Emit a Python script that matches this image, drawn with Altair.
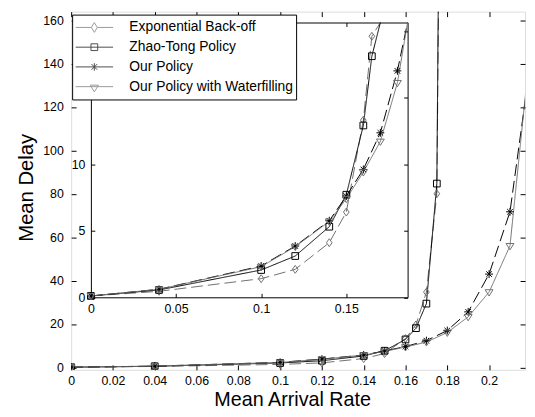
import altair as alt
import pandas as pd

SERIES = ["Exponential Back-off", "Zhao-Tong Policy", "Our Policy", "Our Policy with Waterfilling"]

rate_a = [0, 0.04, 0.1, 0.12, 0.14, 0.15, 0.16, 0.165, 0.17, 0.175, 0.18]
delay_backoff = [0.1, 0.45, 1.4, 2.1, 4.1, 6.4, 13.3, 19.6, 34.7, 80, 600]
delay_zhao = [0.1, 0.55, 2.05, 3.1, 5.3, 7.7, 12.9, 18.1, 29.4, 84.7, 700]

rate_b = [0, 0.04, 0.1, 0.12, 0.14, 0.15, 0.16, 0.17, 0.18, 0.19, 0.2, 0.21, 0.22]
delay_ours = [0.1, 0.6, 2.35, 3.85, 5.75, 7.6, 9.6, 12.35, 17.0, 25.6, 43, 71.7, 142]
delay_water = [0.1, 0.6, 2.3, 3.8, 5.7, 7.4, 9.4, 11.7, 16.1, 23.3, 34.7, 56, 150]

main_x_ticks = [0, 0.02, 0.04, 0.06, 0.08, 0.1, 0.12, 0.14, 0.16, 0.18, 0.2]
main_y_ticks = [0, 20, 40, 60, 80, 100, 120, 140, 160]
inset_x_ticks = [0, 0.05, 0.1, 0.15]
inset_y_ticks = [0, 5, 10, 15, 20]
inset_y_labels = [0, 5, 10]

MAIN_X = [0, 0.2172]
MAIN_Y = [-1.1, 163.9]
INSET_X = [0, 0.186]
INSET_Y = [0, 20.63]

colors = ["#707070", "#000000", "#000000", "#707070"]
dashes = [[12, 5], [1, 0], [12, 5], [1, 0]]
marker_paths = [
    "M0,-1L0.72,0L0,1L-0.72,0Z",
    "M-0.85,-0.85H0.85V0.85H-0.85Z",
    "M0,-1V1M-1,0H1M-0.7,-0.7L0.7,0.7M-0.7,0.7L0.7,-0.7",
    "M-1,-0.6L1,-0.6L0,1Z",
]
legend_paths = [
    "M-1,0H-0.16M0.16,0H1M0,-0.26L0.16,0L0,0.26L-0.16,0Z",
    "M-1,0H1M-0.18,-0.18H0.18V0.18H-0.18Z",
    "M-1,0H1M0,-0.2V0.2M-0.15,-0.15L0.15,0.15M-0.15,0.15L0.15,-0.15",
    "M-1,0H1M-0.22,-0.08L0.22,-0.08L0,0.28Z",
]

series_data = [
    (SERIES[0], rate_a, delay_backoff),
    (SERIES[1], rate_a, delay_zhao),
    (SERIES[2], rate_b, delay_ours),
    (SERIES[3], rate_b, delay_water),
]

rows = []
inset_line_rows = []
inset_point_rows = []
for name, xs, ys in series_data:
    for x, y in zip(xs, ys):
        rows.append({"x": x, "y": y, "series": name})
    for x, y in zip(xs, ys):
        inset_line_rows.append({"x": x, "y": y, "series": name})
        if x > INSET_X[1] or y > INSET_Y[1]:
            break
    for x, y in zip(xs, ys):
        if x <= INSET_X[1] and y <= INSET_Y[1]:
            inset_point_rows.append({"x": x, "y": y, "series": name})

df = pd.DataFrame(rows)
df_il = pd.DataFrame(inset_line_rows)
df_ip = pd.DataFrame(inset_point_rows)

W, H = 460, 363
FONT = "Liberation Sans"


def ax(orient, values, offset=0, labels=False, ticks=True, domain=False,
       tick_size=5, label_padding=4, fmt=".2~f", **kw):
    args = dict(orient=orient, values=values, offset=offset, labels=labels,
                ticks=ticks, domain=domain, grid=False, labelFlush=False,
                labelOverlap=False, format=fmt, labelPadding=label_padding,
                labelFontSize=12.5, labelFont=FONT, labelColor="black",
                tickColor="black", domainColor="black", tickWidth=1,
                domainWidth=1)
    if ticks:
        args["tickSize"] = tick_size
    args.update(kw)
    if "title" not in args:
        args["title"] = None
    return alt.Axis(**args)


color_scale = alt.Scale(domain=SERIES, range=colors)
dash_scale = alt.Scale(domain=SERIES, range=dashes)
marker_scale = alt.Scale(domain=SERIES, range=marker_paths)
legend_scale = alt.Scale(domain=SERIES, range=legend_paths)

xm = alt.Scale(domain=MAIN_X, nice=False, zero=False)
ym = alt.Scale(domain=MAIN_Y, nice=False, zero=False)
xi = alt.Scale(domain=INSET_X, range=[20, 341], nice=False, zero=False, clamp=True)
yi = alt.Scale(domain=INSET_Y, range=[289.5, 11], nice=False, zero=False, clamp=True)

# ---------------- main plot ----------------
main_lines = alt.Chart(df).mark_line(clip=True, strokeWidth=1).encode(
    x=alt.X("x:Q", scale=xm, axis=ax("bottom", main_x_ticks, labels=True, ticks=False,
                                      label_padding=4.5, title="Mean Arrival Rate",
                                      titleFontSize=20, titleFont=FONT, titleFontWeight="normal",
                                      titleColor="black", titleX=224, titleY=36.5,
                                      titleAlign="center", titleBaseline="alphabetic")),
    y=alt.Y("y:Q", scale=ym, axis=ax("left", main_y_ticks, labels=True, ticks=False,
                                      label_padding=8, fmt="d", title="Mean Delay",
                                      titleFontSize=20.5, titleFont=FONT, titleFontWeight="normal",
                                      titleColor="black", titleX=-45, titleY=178, titleAngle=270,
                                      titleAlign="center", titleBaseline="middle")),
    color=alt.Color("series:N", scale=color_scale, legend=None),
    strokeDash=alt.StrokeDash("series:N", scale=dash_scale, legend=None),
)

main_points = alt.Chart(df).mark_point(clip=True, filled=False, size=64, strokeWidth=1, opacity=1).encode(
    x=alt.X("x:Q", scale=xm, axis=ax("top", main_x_ticks, offset=-H)),
    y=alt.Y("y:Q", scale=ym, axis=ax("right", main_y_ticks, offset=-W)),
    color=alt.Color("series:N", scale=color_scale, legend=None),
    shape=alt.Shape("series:N", scale=marker_scale, legend=None),
)

legend_def = dict(orient="none", legendX=1, legendY=3, title=None, fillColor="white",
                  strokeColor="black", padding=3, labelFontSize=14, labelFont=FONT,
                  labelColor="black", labelOffset=16, symbolSize=1444, symbolStrokeWidth=1,
                  clipHeight=20, rowPadding=0, labelLimit=400, cornerRadius=0)

main_legend = alt.Chart(df).mark_point(filled=False, strokeWidth=1).encode(
    x=alt.X("x:Q", scale=xm, axis=ax("bottom", main_x_ticks, offset=-H)),
    y=alt.Y("y:Q", scale=ym, axis=ax("left", main_y_ticks, offset=-W)),
    color=alt.Color("series:N", scale=color_scale, legend=alt.Legend(**legend_def)),
    shape=alt.Shape("series:N", scale=legend_scale, legend=alt.Legend(**legend_def)),
).transform_filter("false")

main = alt.layer(main_lines, main_points, main_legend).resolve_scale(
    color="independent", shape="independent", strokeDash="independent"
).resolve_axis(x="independent", y="independent")

# ---------------- inset ----------------
inset_lines = alt.Chart(df_il).mark_line(strokeWidth=1).encode(
    x=alt.X("x:Q", scale=xi, axis=ax("bottom", inset_x_ticks, offset=-(H - 289.5), labels=True,
                                      ticks=False, domain=True, label_padding=5)),
    y=alt.Y("y:Q", scale=yi, axis=ax("left", inset_y_labels, offset=-20, labels=True,
                                      ticks=False, domain=True, label_padding=6, fmt="d")),
    color=alt.Color("series:N", scale=color_scale, legend=None),
    strokeDash=alt.StrokeDash("series:N", scale=dash_scale, legend=None),
)

inset_points = alt.Chart(df_ip).mark_point(filled=False, size=64, strokeWidth=1, opacity=1).encode(
    x=alt.X("x:Q", scale=xi, axis=ax("top", inset_x_ticks, offset=-289.5, tick_size=4)),
    y=alt.Y("y:Q", scale=yi, axis=ax("right", inset_y_ticks, offset=-(W - 20), tick_size=4)),
    color=alt.Color("series:N", scale=color_scale, legend=None),
    shape=alt.Shape("series:N", scale=marker_scale, legend=None),
)

inset_frame = alt.Chart(df_ip).mark_point(filled=False).encode(
    x=alt.X("x:Q", scale=xi, axis=ax("bottom", inset_x_ticks, offset=-(H - 11), domain=True, tick_size=4)),
    y=alt.Y("y:Q", scale=yi, axis=ax("left", inset_y_ticks, offset=-341, domain=True, tick_size=4)),
).transform_filter("false")

inset = alt.layer(inset_lines, inset_points, inset_frame).resolve_scale(
    color="independent", shape="independent", strokeDash="independent"
).resolve_axis(x="independent", y="independent")

chart = alt.layer(main, inset).resolve_scale(
    x="independent", y="independent", color="independent",
    shape="independent", strokeDash="independent"
).properties(
    width=W, height=H,
    autosize=alt.AutoSizeParams(type="none"),
    padding={"left": 64, "top": 1, "right": 2, "bottom": 37},
).configure_view(stroke="black", strokeWidth=1).configure(font=FONT)

chart.save("out.html", embed_options={"renderer": "svg", "actions": False})
